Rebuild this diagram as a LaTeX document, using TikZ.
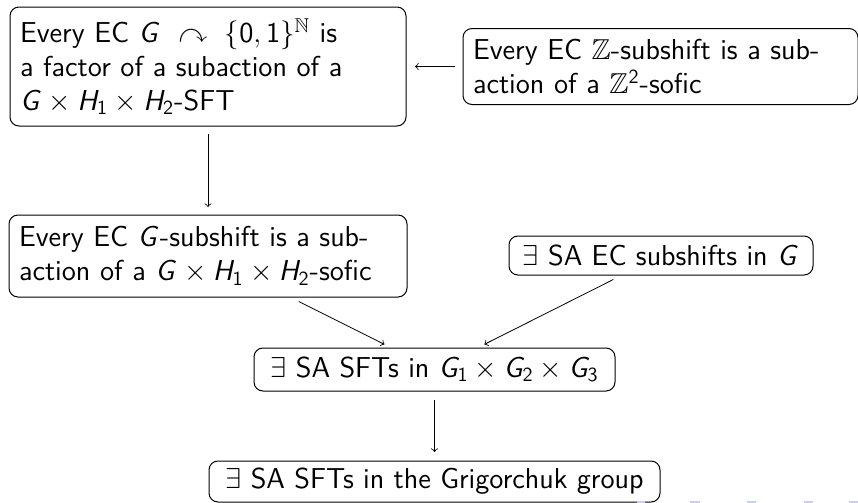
\documentclass[tikz,border=0pt]{standalone}
\usepackage{amssymb}
\DeclareSymbolFont{sfit}{OT1}{cmss}{m}{sl}
\DeclareSymbolFont{sfup}{OT1}{cmss}{m}{n}
\DeclareMathSymbol{G}{\mathalpha}{sfit}{`G}
\DeclareMathSymbol{H}{\mathalpha}{sfit}{`H}
\DeclareMathSymbol{0}{\mathalpha}{sfup}{`0}
\DeclareMathSymbol{1}{\mathalpha}{sfup}{`1}
\DeclareMathSymbol{2}{\mathalpha}{sfup}{`2}
\DeclareMathSymbol{3}{\mathalpha}{sfup}{`3}
\definecolor{navcol}{RGB}{205,205,240}
\tikzset{
  box/.style={draw, rounded corners=4.5pt, line width=0.5pt, outer sep=0pt,
    inner xsep=5pt, inner ysep=0pt,
    font=\sffamily\fontsize{14.4}{17}\selectfont},
  leftbox/.style={box, align=left},
  midbox/.style={box, align=center},
  arr/.style={->, line width=0.4pt}
}
\begin{document}
\begin{tikzpicture}[x=0.5pt, y=-0.5pt]
\useasboundingbox (0,0) rectangle (858,503);
\node[leftbox, text width=188pt, minimum height=59.5pt] (A) at (208,66.5)
  {Every EC $G \ \curvearrowright\ \{0,1\}^{\mathbb{N}}$ is\\
   a factor of a subaction of a\\
   $G\times H_1\times H_2$-SFT};
\node[leftbox, text width=187.5pt, minimum height=38pt] (B) at (660.5,66.5)
  {Every EC $\mathbb{Z}$-subshift is a sub-\\action of a $\mathbb{Z}^2$-sofic};
\node[leftbox, text width=189pt, minimum height=41pt] (C) at (208,256)
  {Every EC $G$-subshift is a sub-\\action of a $G\times H_1\times H_2$-sofic};
\node[midbox, minimum width=152pt, minimum height=19.5pt] (D) at (661,255.5)
  {$\exists$ SA EC subshifts in $G$};
\node[midbox, minimum width=180.5pt, minimum height=21.5pt] (E) at (434.5,369.5)
  {$\exists$ SA SFTs in $G_1\times G_2\times G_3$};
\node[midbox, minimum width=225.5pt, minimum height=20.5pt] (F) at (434.5,481.5)
  {$\exists$ SA SFTs in the Grigorchuk group};
\draw[arr, shorten <=4pt, shorten >=4.5pt] (B) -- (A);
\draw[arr, shorten <=4pt, shorten >=4pt] (A) -- (C);
\draw[arr, shorten <=5pt, shorten >=4pt] (C) -- (E);
\draw[arr, shorten <=5pt, shorten >=4pt] (D) -- (E);
\draw[arr, shorten <=4.5pt, shorten >=4.5pt] (E) -- (F);
% fragments of the navigation symbols
\fill[navcol] (637,501) rectangle (645,503);
\fill[navcol] (690,501) rectangle (700,503);
\fill[navcol] (747,501) rectangle (756,503);
\fill[navcol] (804,501) rectangle (813,503);
\fill[navcol] (849,501) rectangle (858,503);
\end{tikzpicture}
\end{document}
